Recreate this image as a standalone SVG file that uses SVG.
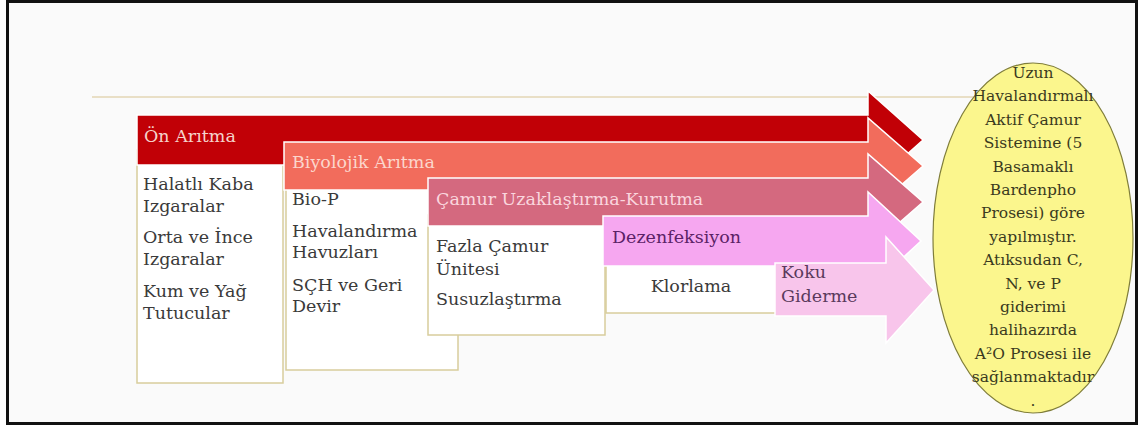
<svg xmlns="http://www.w3.org/2000/svg" width="1139" height="427" viewBox="0 0 1139 427">
<style>
  text { font-family: "DejaVu Serif", "Liberation Serif", serif; }
  .box { fill: #ffffff; stroke: #d8cd9c; stroke-width: 1.5; }
  .arr { stroke: #ffffff; stroke-width: 1.5; stroke-linejoin: miter; }
  .body { font-size: 17.5px; fill: #3a3a3a; }
  .hdr { font-size: 17.5px; }
  .ell { font-size: 15.5px; fill: #3a3a1e; text-anchor: middle; }
</style>
<rect x="0" y="0" width="1139" height="427" fill="#ffffff"/>
<rect x="7.5" y="1.5" width="1129" height="422" fill="#fafafa" stroke="#111111" stroke-width="3"/>
<line x1="92" y1="97" x2="990" y2="97" stroke="#e9dfc6" stroke-width="2"/>

<g id="on-aritma">
  <rect class="box" x="137" y="150" width="146" height="233"/>
  <path class="arr" fill="#c10006" d="M137,115 H868 V91 L923,140 L868,189 V165 H137 Z"/>
  <text class="hdr" x="144" y="142" fill="#f5d3cb" font-size="18">Ön Arıtma</text>
  <text class="body" x="143" y="190">Halatlı Kaba</text>
  <text class="body" x="143" y="212">Izgaralar</text>
  <text class="body" x="143" y="243">Orta ve İnce</text>
  <text class="body" x="143" y="265">Izgaralar</text>
  <text class="body" x="143" y="297">Kum ve Yağ</text>
  <text class="body" x="143" y="319">Tutucular</text>
</g>

<g id="biyolojik-aritma">
  <rect class="box" x="286" y="175" width="172" height="195"/>
  <path class="arr" fill="#f26c5c" d="M284,142 H868 V118 L923,166 L868,214 V190 H284 Z"/>
  <text class="hdr" x="292" y="168" fill="#fcd6cc" font-size="16.8">Biyolojik Arıtma</text>
  <text class="body" x="292" y="205">Bio-P</text>
  <text class="body" x="292" y="237">Havalandırma</text>
  <text class="body" x="292" y="258">Havuzları</text>
  <text class="body" x="292" y="291">SÇH ve Geri</text>
  <text class="body" x="292" y="312">Devir</text>
</g>

<g id="camur">
  <rect class="box" x="428" y="215" width="177" height="120"/>
  <path class="arr" fill="#d4697f" d="M428,178 H868 V154 L923,202 L868,250 V226 H428 Z"/>
  <text class="hdr" x="436" y="205" fill="#fad6de" font-size="18.3">Çamur Uzaklaştırma-Kurutma</text>
  <text class="body" x="436" y="252">Fazla Çamur</text>
  <text class="body" x="436" y="275">Ünitesi</text>
  <text class="body" x="436" y="305">Susuzlaştırma</text>
</g>

<g id="dezenfeksiyon">
  <rect class="box" x="606" y="255" width="170" height="58"/>
  <path class="arr" fill="#f6a7f0" d="M603,216 H868 V192 L921,241 L868,290 V266 H603 Z"/>
  <text class="hdr" x="612" y="243" fill="#5b2266" font-size="18">Dezenfeksiyon</text>
  <text class="body" x="691" y="292" text-anchor="middle">Klorlama</text>
</g>

<g id="koku-giderme">
  <path class="arr" fill="#f8c5eb" d="M775,263 H886 V237 L934,290 L886,343 V316 H775 Z"/>
  <text class="hdr" x="781" y="278" fill="#5a3a5c" font-size="18">Koku</text>
  <text class="hdr" x="781" y="302" fill="#5a3a5c" font-size="18">Giderme</text>
</g>

<g id="aciklama">
  <ellipse cx="1033" cy="238" rx="100" ry="175" fill="#fbf68d" stroke="#7f7d3a" stroke-width="1.2"/>
  <text class="ell" x="1033" y="78">Uzun</text>
  <text class="ell" x="1033" y="101.4">Havalandırmalı</text>
  <text class="ell" x="1033" y="124.8">Aktif Çamur</text>
  <text class="ell" x="1033" y="148.2">Sistemine (5</text>
  <text class="ell" x="1033" y="171.6">Basamaklı</text>
  <text class="ell" x="1033" y="195">Bardenpho</text>
  <text class="ell" x="1033" y="218.4">Prosesi) göre</text>
  <text class="ell" x="1033" y="241.8">yapılmıştır.</text>
  <text class="ell" x="1033" y="265.2">Atıksudan C,</text>
  <text class="ell" x="1033" y="288.6">N, ve P</text>
  <text class="ell" x="1033" y="312">giderimi</text>
  <text class="ell" x="1033" y="335.4">halihazırda</text>
  <text class="ell" x="1033" y="358.8">A²O Prosesi ile</text>
  <text class="ell" x="1033" y="382.2">sağlanmaktadır</text>
  <text class="ell" x="1033" y="405.6">.</text>
</g>
</svg>
